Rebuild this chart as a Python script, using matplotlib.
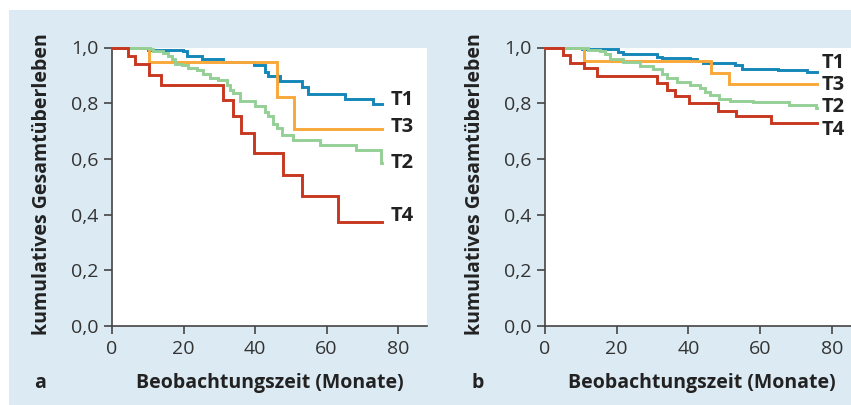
import matplotlib
matplotlib.use("Agg")
import matplotlib.pyplot as plt
from matplotlib.patches import Rectangle

plt.rcParams['font.family'] = ['Open Sans', 'DejaVu Sans']

# ---- Panel a data (months, survival) ----
a_T1_t = [0, 10.2, 19.9, 20.9, 25.1, 31.1, 39.7, 42.8, 43.7, 47.0, 53.1, 54.9, 65.2, 73.1, 75.4]
a_T1_s = [1.0, 0.99, 0.986, 0.971, 0.96, 0.948, 0.938, 0.912, 0.896, 0.879, 0.858, 0.832, 0.814, 0.796, 0.796]
a_T3_t = [0, 10.4, 46.1, 51.0, 75.4]
a_T3_s = [1.0, 0.948, 0.823, 0.707, 0.707]
a_T2_t = [0, 10.6, 11.6, 14.4, 15.8, 16.7, 17.6, 19.5, 21.3, 23.7, 25.5, 27.4, 29.7, 32.1, 33.0, 33.9,
          35.8, 40.0, 42.8, 43.7, 45.1, 46.1, 47.5, 50.7, 58.2, 68.3, 75.2, 75.4]
a_T2_s = [1.0, 0.995, 0.987, 0.982, 0.971, 0.96, 0.942, 0.936, 0.927, 0.918, 0.906, 0.89, 0.882, 0.864, 0.846, 0.835,
          0.809, 0.789, 0.769, 0.754, 0.727, 0.71, 0.686, 0.668, 0.65, 0.632, 0.585, 0.585]
a_T4_t = [0, 4.6, 6.4, 10.4, 13.7, 31.0, 33.9, 36.0, 39.8, 47.7, 53.1, 63.1, 75.4]
a_T4_s = [1.0, 0.971, 0.939, 0.902, 0.867, 0.811, 0.754, 0.692, 0.62, 0.543, 0.468, 0.3725, 0.3725]

# ---- Panel b data ----
b_T1_t = [0, 10.2, 20.4, 21.8, 31.1, 32.5, 40.4, 42.3, 44.1, 53.0, 54.8, 65.0, 72.9, 75.7]
b_T1_s = [1.0, 0.993, 0.985, 0.977, 0.967, 0.961, 0.958, 0.952, 0.943, 0.937, 0.923, 0.919, 0.913, 0.913]
b_T3_t = [0, 11.0, 46.3, 51.4, 75.7]
b_T3_s = [1.0, 0.952, 0.907, 0.869, 0.869]
b_T2_t = [0, 12.1, 15.3, 16.7, 18.1, 21.8, 26.5, 30.2, 32.5, 33.9, 36.7, 40.4, 43.2, 44.6, 46.0, 48.5,
          51.5, 58.1, 67.9, 75.5, 75.7]
b_T2_s = [1.0, 0.99, 0.986, 0.977, 0.958, 0.947, 0.934, 0.922, 0.905, 0.889, 0.877, 0.865, 0.853, 0.841, 0.829, 0.815,
          0.809, 0.805, 0.793, 0.782, 0.782]
b_T4_t = [0, 5.1, 7.0, 10.9, 14.4, 31.1, 34.1, 36.2, 40.2, 48.1, 53.3, 63.0, 75.7]
b_T4_s = [1.0, 0.973, 0.945, 0.925, 0.898, 0.874, 0.847, 0.826, 0.80, 0.773, 0.754, 0.728, 0.728]

groups = ['T1', 'T2', 'T3', 'T4']
colors = {'T1': '#1487b8', 'T2': '#94d096', 'T3': '#f9a83a', 'T4': '#c8371f'}
y_ticks = [0.0, 0.2, 0.4, 0.6, 0.8, 1.0]
x_ticks = [0, 20, 40, 60, 80]

panel_a = {'T1': (a_T1_t, a_T1_s), 'T2': (a_T2_t, a_T2_s), 'T3': (a_T3_t, a_T3_s), 'T4': (a_T4_t, a_T4_s)}
panel_b = {'T1': (b_T1_t, b_T1_s), 'T2': (b_T2_t, b_T2_s), 'T3': (b_T3_t, b_T3_s), 'T4': (b_T4_t, b_T4_s)}
label_y_a = {'T1': 0.81, 'T3': 0.715, 'T2': 0.585, 'T4': 0.395}
label_y_b = {'T1': 0.945, 'T3': 0.865, 'T2': 0.785, 'T4': 0.705}

bg = '#dbeaf3'
fig = plt.figure(figsize=(8.51, 4.05), dpi=100)
fig.patch.set_facecolor('white')
fig.add_artist(Rectangle((9/851, 0), 1 - 9/851, 1 - 10/405, transform=fig.transFigure,
                         facecolor=bg, edgecolor='none', zorder=0))

def make_panel(rect, xmax, data, label_y, letter, letter_x, xlabel_x, ylabel_x, label_x):
    ax = fig.add_axes(rect)
    ax.set_facecolor('white')
    for g in ['T1', 'T3', 'T2', 'T4']:
        t, s = data[g]
        ax.step(t, s, where='post', color=colors[g], lw=2.1, clip_on=False,
                solid_joinstyle='miter', zorder=3)
    for g in groups:
        ax.text(label_x, label_y[g], g, fontsize=14.5, fontweight='bold', color='#222222',
                va='center', ha='left', clip_on=False)
    ax.set_xlim(0, xmax)
    ax.set_ylim(0, 1.0)
    ax.set_xticks(x_ticks)
    ax.set_yticks(y_ticks)
    ax.set_yticklabels([f'{v:.1f}'.replace('.', ',') for v in y_ticks])
    ax.set_xticklabels([str(v) for v in x_ticks])
    for sp in ['top', 'right']:
        ax.spines[sp].set_visible(False)
    for sp in ['left', 'bottom']:
        ax.spines[sp].set_color('#444444')
        ax.spines[sp].set_linewidth(1.2)
    ax.tick_params(direction='out', length=6, width=1.2, color='#444444',
                   labelsize=14, labelcolor='#333333', pad=4)
    fig.text(xlabel_x, 1 - 383/405, 'Beobachtungszeit (Monate)', fontsize=14, fontweight='bold',
             color='#222222', ha='center', va='center')
    fig.text(ylabel_x, 1 - 184/405, 'kumulatives Gesamtüberleben', fontsize=14, fontweight='bold',
             color='#222222', ha='center', va='center', rotation=90)
    fig.text(letter_x, 1 - 383/405, letter, fontsize=14, fontweight='bold', color='#222222',
             ha='center', va='center')
    return ax

bottom = 1 - 326/405
height = (326 - 47.5) / 405
ax_a = make_panel([112/851, bottom, (427 - 112)/851, height], 88.1, panel_a, label_y_a,
                  'a', 40/851, 270/851, 42/851, 78.0)
ax_b = make_panel([545/851, bottom, (851 - 545)/851, height], 85.3, panel_b, label_y_b,
                  'b', 478/851, 702/851, 475/851, 77.0)

fig.savefig('out.png', dpi=100, facecolor=fig.get_facecolor())
